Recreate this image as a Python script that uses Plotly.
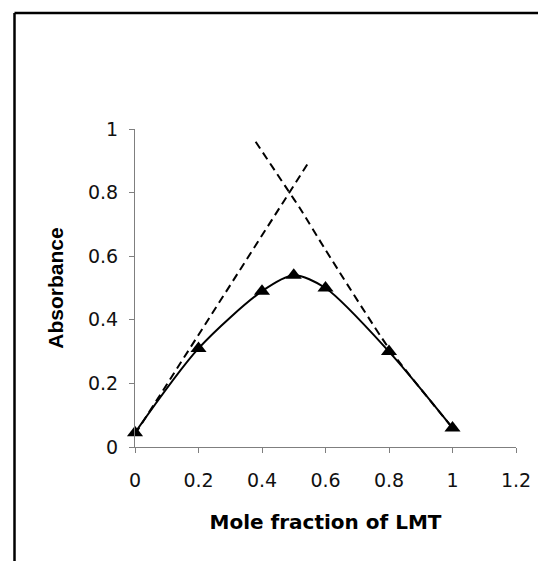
import plotly.graph_objects as go

mole_fraction = [0, 0.2, 0.4, 0.5, 0.6, 0.8, 1.0]
absorbance = [0.045, 0.31, 0.49, 0.54, 0.50, 0.30, 0.06]

asc_x = [0, 0.55]
asc_y = [0.04, 0.90]

desc_x = [0.38, 0.48, 0.52, 0.6, 0.8, 1.0]
desc_y = [0.96, 0.81, 0.75, 0.62, 0.31, 0.06]

x_ticks = [0, 0.2, 0.4, 0.6, 0.8, 1.0, 1.2]
y_ticks = [0, 0.2, 0.4, 0.6, 0.8, 1.0]

fig = go.Figure()
fig.add_trace(go.Scatter(x=asc_x, y=asc_y, mode="lines",
                         line=dict(color="black", width=2, dash="8px,5px"),
                         showlegend=False, hoverinfo="skip"))
fig.add_trace(go.Scatter(x=desc_x, y=desc_y, mode="lines",
                         line=dict(color="black", width=2, dash="8px,5px", shape="spline", smoothing=0.6),
                         showlegend=False, hoverinfo="skip"))
fig.add_trace(go.Scatter(x=mole_fraction, y=absorbance, mode="lines+markers",
                         line=dict(color="black", width=2, shape="spline", smoothing=0.8),
                         marker=dict(symbol="triangle-up", size=14, color="black"),
                         cliponaxis=False, showlegend=False))

L, R, T, B = 135, 22, 129, 114
W, H = 538, 561
pw, ph = W - L - R, H - T - B

def px_to_paper_x(px):
    return (px - L) / pw

def px_to_paper_y(py):
    return (H - B - py) / ph

fx = px_to_paper_x(14.5)
fy = px_to_paper_y(13)
fig.add_shape(type="line", xref="paper", yref="paper", x0=fx, x1=px_to_paper_x(560), y0=fy, y1=fy,
              line=dict(color="black", width=2.5))
fig.add_shape(type="line", xref="paper", yref="paper", x0=fx, x1=fx, y0=fy, y1=px_to_paper_y(580),
              line=dict(color="black", width=2.5))

axis_common = dict(showgrid=False, zeroline=False, showline=True, linecolor="#7f7f7f", linewidth=1,
                   ticks="outside", ticklen=5, tickcolor="#7f7f7f", tickwidth=1,
                   tickfont=dict(family="DejaVu Sans", size=19, color="#111111"))

fig.update_layout(
    width=W, height=H,
    margin=dict(l=L, r=R, t=T, b=B, autoexpand=False),
    plot_bgcolor="white", paper_bgcolor="white",
    xaxis=dict(range=[0, 1.2], tickvals=x_ticks, ticktext=[f"{v:g}" for v in x_ticks],
               ticklabelstandoff=11,
               title=dict(text="<b>Mole fraction of LMT</b>", standoff=25,
                          font=dict(family="DejaVu Sans", size=20, color="black")),
               **axis_common),
    yaxis=dict(range=[0, 1], tickvals=y_ticks, ticktext=[f"{v:g}" for v in y_ticks],
               ticklabelstandoff=7,
               title=dict(text="<b>Absorbance</b>", standoff=18,
                          font=dict(family="Liberation Sans, Arial", size=21, color="black")),
               **axis_common),
)

fig.write_html("out.html", config={"displayModeBar": False},
               post_script="document.body.style.margin='0';")
